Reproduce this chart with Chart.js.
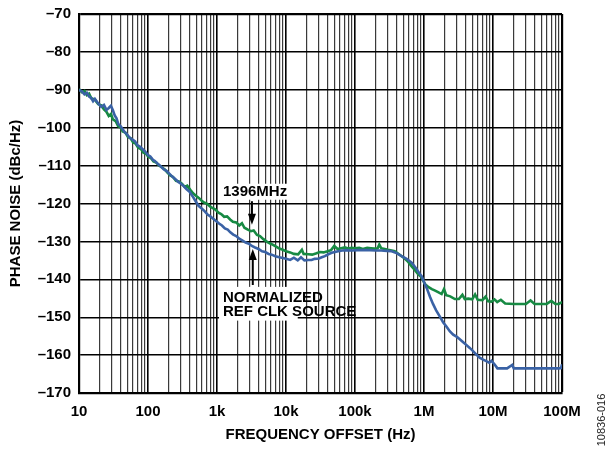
<!DOCTYPE html>
<html lang="en">
<head>
    <meta charset="UTF-8">
    <title>Phase Noise</title>
    <script src="https://cdn.jsdelivr.net/npm/chart.js@4.4.0/dist/chart.umd.min.js"></script>
    <style>
        html, body { margin: 0; padding: 0; background: #fff; }
        .canvas-container { width: 608px; height: 450px; }
    </style>
</head>
<body>
    <div class="canvas-container">
        <canvas id="myChart" width="608" height="450"></canvas>
    </div>

    <script>
        // x axis decades and their labels
        const xDecades = [10, 100, 1e3, 1e4, 1e5, 1e6, 1e7, 1e8];
        const xTickLabels = ['10', '100', '1k', '10k', '100k', '1M', '10M', '100M'];
        const yTicks = [-170, -160, -150, -140, -130, -120, -110, -100, -90, -80, -70];

        // 1396MHz output (green)
        const outFreq = [10, 11, 12, 13, 14, 15, 17, 19, 21, 23, 25, 27, 29, 31, 34, 37, 40, 43, 47, 51,
            56, 61, 66, 72, 79, 86, 94, 100, 110, 120, 132, 145, 160, 175, 190, 210, 230, 255, 280, 310,
            340, 370, 410, 450, 500, 550, 600, 660, 720, 790, 870, 950, 1050, 1150, 1270, 1400, 1550, 1700, 1900, 2100,
            2300, 2500, 2800, 3100, 3400, 3800, 4200, 4700, 5200, 5800, 6500, 7200, 8000, 9000, 10000, 11500, 13000, 15000, 17000, 18000,
            21000, 24000, 27000, 31000, 35000, 40000, 45000, 50000, 56000, 63000, 71000, 80000, 90000, 100000, 115000, 130000, 150000, 170000, 190000, 213000,
            225000, 240000, 270000, 300000, 340000, 376000, 420000, 474000, 526000, 590000, 663000, 740000, 820000, 925000, 1030000, 1150000, 1300000, 1450000, 1600000, 1800000,
            1950000, 2100000, 2400000, 2800000, 3200000, 3600000, 3900000, 4400000, 5000000, 5500000, 6000000, 7000000, 7800000, 8500000, 9500000, 10500000, 11500000, 13000000, 15000000, 20000000,
            25000000, 30000000, 35000000, 40000000, 50000000, 60000000, 70000000, 80000000, 90000000, 100000000];
        const outNoise = [-89.8, -90.6, -90.3, -91.4, -91.0, -92.2, -92.6, -93.8, -94.1, -95.2, -95.8, -96.9, -96.4, -97.8, -98.3, -99.6, -99.9, -101.0, -101.3, -102.4,
            -102.8, -103.9, -104.2, -105.3, -105.6, -106.6, -106.9, -107.6, -108.0, -108.9, -109.2, -110.0, -110.5, -111.0, -111.8, -112.6, -113.0, -114.0, -114.2, -114.8,
            -115.6, -115.3, -116.4, -117.3, -118.0, -118.6, -119.3, -119.8, -120.1, -120.8, -121.2, -121.6, -122.4, -122.8, -123.5, -123.4, -124.2, -124.8, -125.0, -125.8,
            -125.2, -126.4, -126.9, -127.3, -127.1, -128.3, -128.6, -129.4, -130.0, -130.5, -130.9, -131.4, -131.9, -132.2, -132.6, -132.9, -133.3, -133.4, -132.2, -133.3,
            -133.4, -133.5, -133.2, -132.8, -132.9, -132.6, -132.3, -131.2, -132.0, -131.8, -131.6, -131.9, -131.7, -131.8, -131.7, -132.0, -131.7, -131.8, -131.9, -131.8,
            -130.8, -131.8, -132.0, -132.2, -132.4, -132.6, -133.2, -133.9, -134.5, -135.4, -136.6, -137.6, -138.6, -139.5, -141.2, -142.0, -142.6, -143.0, -143.4, -143.9,
            -142.6, -144.2, -144.5, -145.2, -145.2, -144.1, -145.2, -145.1, -145.3, -144.0, -145.4, -145.5, -144.6, -145.8, -145.9, -145.3, -146.0, -145.4, -146.4, -146.5,
            -146.5, -146.5, -145.6, -146.5, -146.5, -146.5, -145.7, -146.5, -146.5, -146.0];

        // normalized ref clk source (blue)
        const refFreq = [10, 11, 12, 13, 14, 15, 16, 17, 19, 21, 23, 25, 27, 29, 31, 33, 35, 37, 40, 43,
            46, 50, 54, 59, 65, 70, 76, 83, 90, 100, 108, 118, 126, 140, 155, 170, 185, 205, 225, 250,
            275, 300, 330, 360, 400, 440, 490, 540, 600, 660, 730, 800, 880, 970, 1070, 1180, 1300, 1430, 1560, 1720,
            1900, 2100, 2350, 2600, 2900, 3200, 3560, 4000, 4500, 5000, 5600, 6200, 7000, 8000, 9000, 10000, 11500, 13000, 14800, 16500,
            18500, 21000, 23500, 26000, 30000, 33000, 36600, 41000, 46000, 51000, 57000, 65000, 75000, 90000, 110000, 135000, 165000, 200000, 240000, 290000,
            340000, 400000, 474000, 560000, 663000, 760000, 870000, 925000, 1000000, 1100000, 1220000, 1350000, 1500000, 1690000, 1900000, 2100000, 2360000, 2650000, 3000000, 3300000,
            3700000, 4100000, 4600000, 5100000, 5700000, 6400000, 7200000, 8000000, 8800000, 9500000, 10500000, 11600000, 13000000, 16000000, 19000000, 20000000, 25000000, 35000000, 50000000, 70000000,
            90000000, 97000000, 100000000];
        const refNoise = [-90.0, -90.4, -91.2, -90.8, -91.8, -92.1, -93.0, -92.4, -93.6, -94.5, -94.0, -95.3, -94.8, -94.2, -95.4, -96.8, -97.5, -99.0, -99.6, -100.4,
            -101.2, -101.8, -102.6, -103.1, -103.6, -104.6, -105.0, -105.6, -106.2, -107.2, -107.6, -108.5, -108.8, -109.6, -110.3, -111.0, -111.4, -112.2, -112.9, -113.6,
            -114.3, -114.8, -115.4, -116.2, -116.9, -118.0, -119.4, -120.6, -121.3, -122.0, -122.9, -123.4, -124.0, -124.6, -125.3, -125.8, -126.6, -126.9, -127.6, -128.2,
            -128.6, -129.3, -129.8, -130.3, -130.6, -131.2, -131.6, -132.0, -132.6, -132.8, -133.3, -133.5, -133.9, -134.2, -134.4, -134.6, -134.9, -134.3, -135.0, -134.2,
            -135.0, -134.9, -134.9, -134.6, -134.5, -134.2, -133.9, -133.4, -133.0, -132.8, -132.6, -132.4, -132.3, -132.4, -132.3, -132.3, -132.3, -132.4, -132.4, -132.5,
            -132.6, -133.1, -133.9, -134.6, -135.6, -137.0, -138.6, -139.2, -140.7, -142.4, -144.6, -146.5, -148.2, -149.8, -151.4, -152.4, -153.7, -154.6, -155.2, -155.8,
            -156.6, -157.3, -158.1, -158.9, -159.8, -160.7, -161.2, -161.6, -162.0, -161.5, -162.4, -163.5, -163.5, -163.5, -162.6, -163.5, -163.5, -163.5, -163.5, -163.5,
            -163.5, -163.4, -162.4];

        const greenColor = '#178a43';
        const blueColor = '#3a62a5';
        const boldFont = { family: 'Liberation Sans, Arial, sans-serif', size: 15, weight: 'bold' };

        // every 1..9 x decade gets a grid line
        const xGridValues = [];
        xDecades.forEach((d, i) => {
            if (i === xDecades.length - 1) { xGridValues.push(d); return; }
            for (let m = 1; m < 10; m++) xGridValues.push(d * m);
        });

        const isDecade = v => xDecades.indexOf(v) !== -1;
        const dash = v => v < 0 ? '\u2013' + Math.abs(v) : String(v);

        // annotations: labels, white boxes behind them and arrows
        const annotations = {
            id: 'annotations',
            afterDatasetsDraw(chart) {
                const c = chart.ctx;
                const x = chart.scales.x, y = chart.scales.y;
                const px = v => x.getPixelForValue(v);
                const py = v => y.getPixelForValue(v);
                c.save();
                c.font = 'bold 15px Liberation Sans, Arial, sans-serif';
                c.textBaseline = 'middle';
                c.textAlign = 'left';

                // 1396MHz label
                const l1x = px(1220), l1y = py(-116.9);
                const w1 = c.measureText('1396MHz').width;
                c.fillStyle = '#fff';
                c.fillRect(l1x - 3, l1y - 8, w1 + 6, 16);
                c.fillStyle = '#000';
                c.fillText('1396MHz', l1x, l1y);

                // normalized ref clk source label
                const bx0 = px(1070), bx1 = px(14800);
                const by0 = py(-142.0), by1 = py(-150.9);
                c.fillStyle = '#fff';
                c.fillRect(bx0, by0, bx1 - bx0, by1 - by0);
                c.fillStyle = '#000';
                c.fillText('NORMALIZED', px(1220), py(-144.8));
                c.fillText('REF CLK SOURCE', px(1220), py(-148.7));

                // arrows
                const arrow = (xv, fromY, toY) => {
                    const ax = px(xv), a0 = py(fromY), a1 = py(toY);
                    const dir = a1 > a0 ? 1 : -1;
                    c.strokeStyle = '#000';
                    c.lineWidth = 2;
                    c.beginPath();
                    c.moveTo(ax, a0);
                    c.lineTo(ax, a1 - dir * 8);
                    c.stroke();
                    c.beginPath();
                    c.moveTo(ax, a1);
                    c.lineTo(ax - 4, a1 - dir * 11);
                    c.lineTo(ax + 4, a1 - dir * 11);
                    c.closePath();
                    c.fill();
                };
                arrow(3210, -119.4, -125.6);
                arrow(3300, -141.5, -132.0);

                // figure number
                c.font = '11px Liberation Sans, Arial, sans-serif';
                c.fillStyle = '#222';
                c.textAlign = 'center';
                c.translate(602, 420);
                c.rotate(-Math.PI / 2);
                c.fillText('10836-016', 0, 0);
                c.restore();
            }
        };

        var ctx = document.getElementById('myChart').getContext('2d');
        var myChart = new Chart(ctx, {
            type: 'line',
            data: {
                datasets: [{
                    label: 'NORMALIZED REF CLK SOURCE',
                    data: refFreq.map((f, i) => ({ x: f, y: refNoise[i] })),
                    borderColor: blueColor,
                    borderWidth: 2.6,
                    pointRadius: 0,
                    fill: false,
                    tension: 0
                }, {
                    label: '1396MHz',
                    data: outFreq.map((f, i) => ({ x: f, y: outNoise[i] })),
                    borderColor: greenColor,
                    borderWidth: 2.6,
                    pointRadius: 0,
                    fill: false,
                    tension: 0
                }]
            },
            options: {
                responsive: false,
                animation: false,
                layout: { padding: { top: 6, right: 46, left: 0, bottom: 0 } },
                plugins: {
                    legend: { display: false },
                    tooltip: { enabled: false }
                },
                scales: {
                    x: {
                        type: 'logarithmic',
                        min: 10,
                        max: 1e8,
                        afterBuildTicks: s => { s.ticks = xGridValues.map(v => ({ value: v })); },
                        afterFit: s => { s.height = 57; },
                        ticks: {
                            autoSkip: false,
                            maxRotation: 0,
                            padding: 10,
                            color: '#000',
                            font: boldFont,
                            callback: v => isDecade(v) ? xTickLabels[xDecades.indexOf(v)] : ''
                        },
                        grid: {
                            drawTicks: false,
                            color: c => isDecade(c.tick.value) ? '#000' : '#3a3a3a',
                            lineWidth: c => c.tick.value === 1e8 ? 2.2 : (isDecade(c.tick.value) ? 1.6 : 1.2)
                        },
                        border: { color: '#000', width: 2.2 },
                        title: {
                            display: true,
                            text: 'FREQUENCY OFFSET (Hz)',
                            color: '#000',
                            font: boldFont,
                            padding: { top: 0, bottom: 6 }
                        }
                    },
                    y: {
                        min: -170,
                        max: -70,
                        afterBuildTicks: s => { s.ticks = yTicks.map(v => ({ value: v })); },
                        afterFit: s => { s.width = 79; },
                        ticks: {
                            padding: 8,
                            color: '#000',
                            font: { family: boldFont.family, size: 15, weight: 'bold', lineHeight: 0.8 },
                            callback: v => dash(v)
                        },
                        grid: {
                            drawTicks: false,
                            color: '#000',
                            lineWidth: c => c.tick.value === -70 ? 2.2 : 1.4
                        },
                        border: { color: '#000', width: 2.2 },
                        title: {
                            display: true,
                            text: 'PHASE NOISE (dBc/Hz)',
                            color: '#000',
                            font: boldFont,
                            padding: { top: 7, bottom: 0 }
                        }
                    }
                }
            },
            plugins: [annotations]
        });
    </script>
</body>
</html>
